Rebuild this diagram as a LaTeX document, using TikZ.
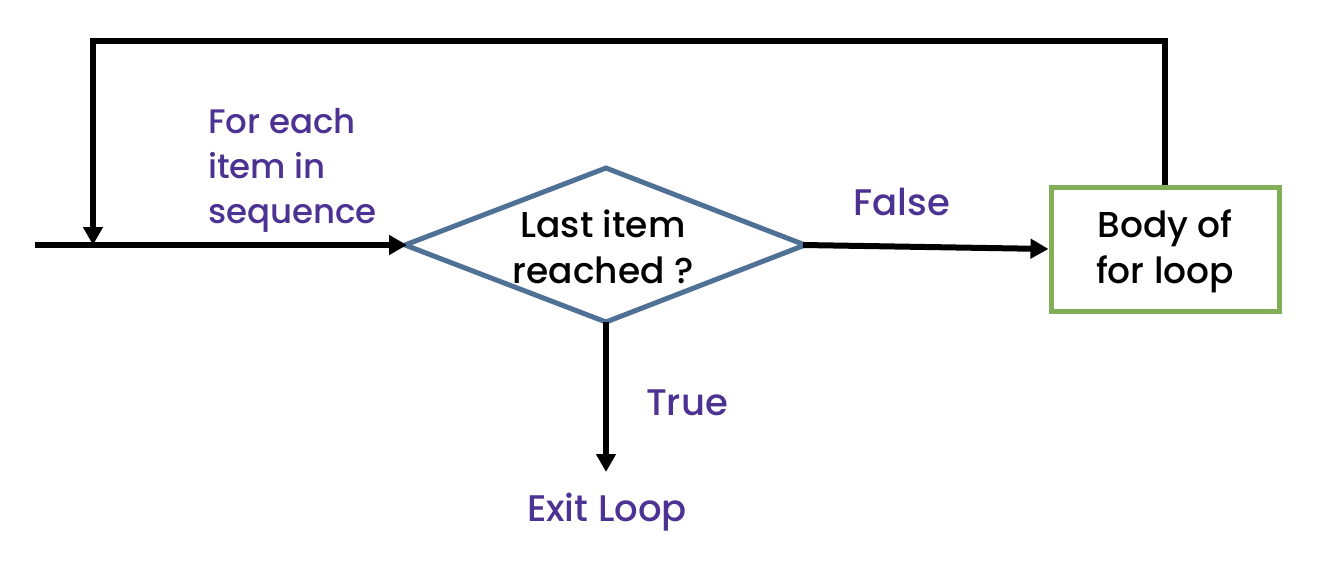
\documentclass[tikz,border=0pt]{standalone}
\usepackage{fontspec}
\setmainfont{Poppins}[UprightFont=* Medium]
\usetikzlibrary{arrows.meta,shapes.geometric}
\definecolor{diablue}{HTML}{4F7196}
\definecolor{boxgreen}{HTML}{82AE57}
\definecolor{lblpurple}{HTML}{4B3293}
\begin{document}
\begin{tikzpicture}[x=1pt,y=-1pt,
  conn/.style={line width=6pt,-{Triangle[length=18pt,width=19pt]}},
  plain/.style={line width=6pt},
  lbl/.style={text=lblpurple,font=\fontsize{37}{45}\selectfont,inner sep=0pt},
  inner/.style={font=\fontsize{36}{46}\selectfont,inner sep=0pt,align=center}]
\useasboundingbox (0,0) rectangle (1338,560);
% diamond
\draw[diablue,line width=5pt,line join=miter] (405,245) -- (606,168) -- (805,245) -- (606,322) -- cycle;
\coordinate (dw) at (405,245);
\coordinate (de) at (805,245);
\coordinate (ds) at (606,322);
\node[inner] (dtext) at (603,247) {Last item\\reached ?};
% box
\node[draw=boxgreen,line width=5pt,minimum width=228pt,minimum height=124pt,inner sep=0pt] (body) at (1165,249) {};
\node[inner] (btext) at (1165,251) {Body of\\for loop};
% input
\coordinate (start) at (35,245);
\coordinate (join) at (93,245);
\coordinate (tl) at (93,41);
\coordinate (tr) at (1165,41);
\draw[conn] (start) -- ([xshift=2pt]dw);
\draw[plain,line join=miter] (body.north) -- (tr) -- (tl) -- ++(0,4);
\draw[conn] ([yshift=-3pt]tl) -- (join);
% false
\draw[conn] ([xshift=-2pt]de) -- (body.west);
% true
\coordinate (exitarr) at (606,472);
\draw[conn] (ds) -- (exitarr);
% labels
\node[lbl,anchor=west,align=left,font=\fontsize{34}{45}\selectfont] (forlbl) at (208,170) {For each\\item in\\sequence};
\node[lbl] (falselbl) at (902,202) {False};
\node[lbl] (truelbl) at (687,403) {True};
\node[lbl] (exitlbl) at (607,512) {Exit Loop};
\end{tikzpicture}
\end{document}
